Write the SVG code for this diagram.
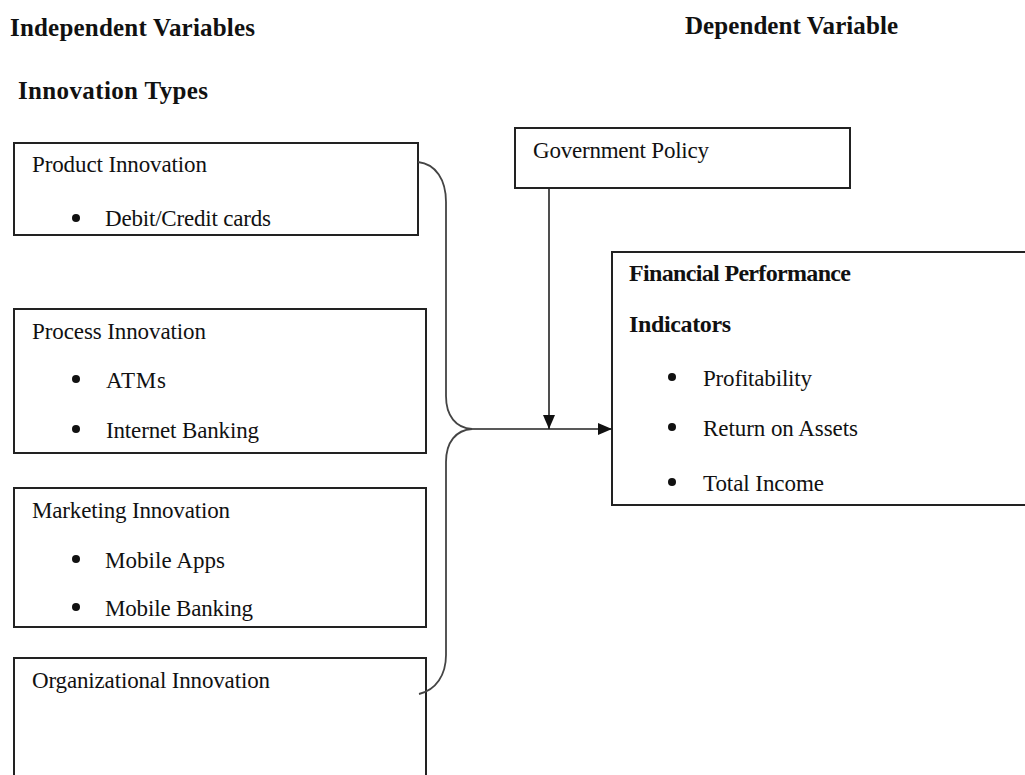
<svg xmlns="http://www.w3.org/2000/svg" width="1025" height="775" viewBox="0 0 1025 775">
<style>
text{font-family:"Liberation Serif","Times New Roman",serif;font-size:23px;fill:#111}
.b{font-weight:bold;font-size:24px}
.h{font-weight:bold;font-size:25px}
.box{fill:#fff;stroke:#222;stroke-width:2}
.bul{fill:#111}
.ln{fill:none;stroke:#222;stroke-width:1.6}
.br{fill:none;stroke:#444;stroke-width:1.8}
</style>
<defs>
<marker id="ah" viewBox="0 0 14 12" refX="14" refY="6" markerWidth="14" markerHeight="12" markerUnits="userSpaceOnUse" orient="auto">
<path d="M0,0 L14,6 L0,12 Z" fill="#111"/>
</marker>
</defs>
<rect width="1025" height="775" fill="#fff"/>
<g id="headings">
<text class="h" x="10" y="36" textLength="245">Independent Variables</text>
<text class="h" x="685" y="34" textLength="213">Dependent Variable</text>
<text class="h" x="18" y="99" textLength="190">Innovation Types</text>
</g>
<g id="product">
<rect class="box" x="14" y="143" width="404" height="92"/>
<text x="32" y="172" textLength="175">Product Innovation</text>
<circle class="bul" cx="76" cy="218" r="4"/>
<text x="105" y="226" textLength="166">Debit/Credit cards</text>
</g>
<g id="process">
<rect class="box" x="14" y="309" width="412" height="144"/>
<text x="32" y="339" textLength="174">Process Innovation</text>
<circle class="bul" cx="76" cy="379" r="4"/>
<text x="106" y="388" textLength="60">ATMs</text>
<circle class="bul" cx="76" cy="429" r="4"/>
<text x="106" y="438" textLength="153">Internet Banking</text>
</g>
<g id="marketing">
<rect class="box" x="14" y="488" width="412" height="139"/>
<text x="32" y="518" textLength="198">Marketing Innovation</text>
<circle class="bul" cx="76" cy="559" r="4"/>
<text x="105" y="568" textLength="120">Mobile Apps</text>
<circle class="bul" cx="76" cy="607" r="4"/>
<text x="105" y="616" textLength="148">Mobile Banking</text>
</g>
<g id="organizational">
<rect class="box" x="14" y="658" width="412" height="130"/>
<text x="32" y="688" textLength="238">Organizational Innovation</text>
</g>
<g id="government">
<rect class="box" x="515" y="128" width="335" height="60"/>
<text x="533" y="158" textLength="176">Government Policy</text>
</g>
<g id="financial">
<rect class="box" x="612" y="252" width="430" height="253"/>
<text class="b" x="629" y="281" textLength="222">Financial Performance</text>
<text class="b" x="629" y="332" textLength="102">Indicators</text>
<circle class="bul" cx="672" cy="377" r="4"/>
<text x="703" y="386" textLength="109">Profitability</text>
<circle class="bul" cx="672" cy="427" r="4"/>
<text x="703" y="436" textLength="155">Return on Assets</text>
<circle class="bul" cx="672" cy="482" r="4"/>
<text x="703" y="491" textLength="121">Total Income</text>
</g>
<g id="connectors">
<path class="br" d="M418,162 C436,164 446,180 446,202 L446,396 C446,416 456,428 472,429 C456,430 446,442 446,462 L446,655 C446,675 436,690 419,694"/>
<path class="ln" d="M472,429 L612,429" marker-end="url(#ah)"/>
<path class="ln" d="M549,188 L549,429" marker-end="url(#ah)"/>
</g>
</svg>
